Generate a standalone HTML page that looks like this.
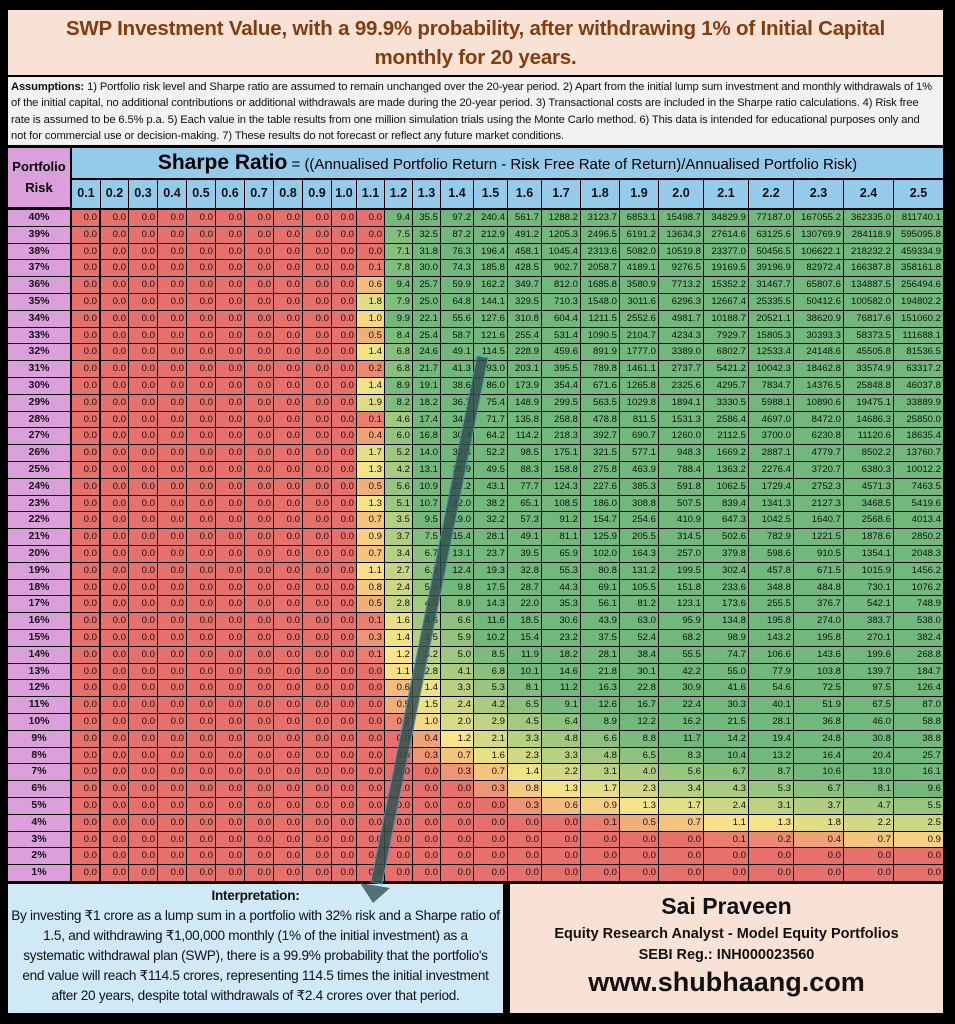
<!DOCTYPE html>
<html><head><meta charset="utf-8">
<style>
*{margin:0;padding:0;box-sizing:border-box}
body{width:955px;height:1024px;background:#000;position:relative;overflow:hidden;font-family:"Liberation Sans",sans-serif}
.a{position:absolute}
#title{left:8px;top:10px;width:935px;height:65px;background:#f8e1d5;color:#843c0c;font-weight:bold;font-size:20.5px;text-align:center;line-height:29px;padding-top:4px;letter-spacing:-0.2px}
#ass{left:8px;top:77px;width:935px;height:68px;background:#f2f2f2;font-size:11.2px;line-height:16.4px;padding:2px 3px;color:#111;letter-spacing:-0.12px;white-space:nowrap;overflow:hidden}
.c{position:absolute;font-size:9.6px;text-align:right;padding-right:2px;line-height:15.8px;color:#111}
.rl{position:absolute;background:#dba0db;font-size:10.5px;font-weight:bold;text-align:center;line-height:15.8px;color:#111}
.h{position:absolute;background:#94cbea;font-weight:bold;font-size:12.5px;text-align:center;line-height:26px;color:#111}
#left{left:8px;top:884px;width:495px;height:129px;background:#cfe9f7;text-align:center;font-size:13.6px;line-height:20px;padding:2px 0 0;color:#111;letter-spacing:-0.28px;white-space:nowrap;overflow:hidden}
#right{left:510px;top:884px;width:433px;height:129px;background:#f8e1d5;text-align:center;font-weight:bold;color:#111}
</style></head><body>
<div id="title" class="a">SWP Investment Value, with a 99.9% probability, after withdrawing 1% of Initial Capital<br>monthly for 20 years.</div>
<div id="ass" class="a"><b>Assumptions:</b> 1) Portfolio risk level and Sharpe ratio are assumed to remain unchanged over the 20-year period. 2) Apart from the initial lump sum investment and monthly withdrawals of 1%<br>of the initial capital, no additional contributions or additional withdrawals are made during the 20-year period. 3) Transactional costs are included in the Sharpe ratio calculations. 4) Risk free<br>rate is assumed to be 6.5% p.a. 5) Each value in the table results from one million simulation trials using the Monte Carlo method. 6) This data is intended for educational purposes only and<br>not for commercial use or decision-making. 7) These results do not forecast or reflect any future market conditions.</div>
<div class="a" style="left:8px;top:148px;width:62px;height:59px;background:#dba0db;font-weight:bold;font-size:13px;text-align:center;line-height:21px;padding-top:8px">Portfolio<br>Risk</div>
<div class="a" style="left:72px;top:148px;width:871px;height:30px;background:#94cbea;text-align:center;line-height:30px;font-size:15px"><b style="font-size:21px">Sharpe Ratio</b> = ((Annualised Portfolio Return - Risk Free Rate of Return)/Annualised Portfolio Risk)</div>
<div id="tbl"></div>
<div id="left" class="a"><b>Interpretation:</b><br>By investing ₹1 crore as a lump sum in a portfolio with 32% risk and a Sharpe ratio of<br>1.5, and withdrawing ₹1,00,000 monthly (1% of the initial investment) as a<br>systematic withdrawal plan (SWP), there is a 99.9% probability that the portfolio's<br>end value will reach ₹114.5 crores, representing 114.5 times the initial investment<br>after 20 years, despite total withdrawals of ₹2.4 crores over that period.</div>
<div id="right" class="a"><div style="font-size:23px;margin-top:9px">Sai Praveen</div><div style="font-size:14.5px;margin-top:6px">Equity Research Analyst - Model Equity Portfolios</div><div style="font-size:14.5px;margin-top:5px">SEBI Reg.: INH000023560</div><div style="font-size:27px;margin-top:4px">www.shubhaang.com</div></div>
<svg class="a" style="left:0;top:0" width="955" height="1024">
<polygon points="477,356 488,358 382,884 371,882" fill="#34504c" fill-opacity="0.85" stroke="#4a90c0" stroke-width="1"/>
<polygon points="360,883 390,888 373,903" fill="#4a6a6c" fill-opacity="0.95"/>
</svg>
<script>
var edges=[71,100,128,157,186,215,244,273,302,331,356,384,412,440,473,507,541,580,619,658,703,748,793,843,893,943];
var names=["0.1","0.2","0.3","0.4","0.5","0.6","0.7","0.8","0.9","1.0","1.1","1.2","1.3","1.4","1.5","1.6","1.7","1.8","1.9","2.0","2.1","2.2","2.3","2.4","2.5"];
function z(n){var a=[];for(var i=0;i<n;i++)a.push(0);return a}
var D={};
D["1.1"]=[0,0,0,0.1,0.6,1.8,1.0,0.5,1.4,0.2,1.4,1.9,0.1,0.4,1.7,1.3,0.5,1.3,0.7,0.9,0.7,1.1,0.8,0.5,0.1,0.3,0.1].concat(z(13));
D["1.2"]=[9.4,7.5,7.1,7.8,9.4,7.9,9.9,8.4,6.8,6.8,8.9,8.2,4.6,6.0,5.2,4.2,5.6,5.1,3.5,3.7,3.4,2.7,2.4,2.8,1.6,1.4,1.2,1.1,0.6,0.5,0.2].concat(z(9));
D["1.3"]=[35.5,32.5,31.8,30.0,25.7,25.0,22.1,25.4,24.6,21.7,19.1,18.2,17.4,16.8,14.0,13.1,10.9,10.7,9.5,7.5,6.7,6.3,5.6,4.5,4.6,3.5,3.2,2.8,1.4,1.5,1.0,0.4,0.3].concat(z(7));
D["1.4"]=[97.2,87.2,76.3,74.3,59.9,64.8,55.6,58.7,49.1,41.3,38.6,36.7,34.3,30.4,30.3,26.9,23.2,22.0,19.0,15.4,13.1,12.4,9.8,8.9,6.6,5.9,5.0,4.1,3.3,2.4,2.0,1.2,0.7,0.3].concat(z(6));
D["1.5"]=[240.4,212.9,196.4,185.8,162.2,144.1,127.6,121.6,114.5,93.0,86.0,75.4,71.7,64.2,52.2,49.5,43.1,38.2,32.2,28.1,23.7,19.3,17.5,14.3,11.6,10.2,8.5,6.8,5.3,4.2,2.9,2.1,1.6,0.7,0.3].concat(z(5));
D["1.6"]=[561.7,491.2,458.1,428.5,349.7,329.5,310.8,255.4,228.9,203.1,173.9,148.9,135.8,114.2,98.5,88.3,77.7,65.1,57.3,49.1,39.5,32.8,28.7,22.0,18.5,15.4,11.9,10.1,8.1,6.5,4.5,3.3,2.3,1.4,0.8,0.3].concat(z(4));
D["1.7"]=[1288.2,1205.3,1045.4,902.7,812.0,710.3,604.4,531.4,459.6,395.5,354.4,299.5,258.8,218.3,175.1,158.8,124.3,108.5,91.2,81.1,65.9,55.3,44.3,35.3,30.6,23.2,18.2,14.6,11.2,9.1,6.4,4.8,3.3,2.2,1.3,0.6].concat(z(4));
D["1.8"]=[3123.7,2496.5,2313.6,2058.7,1685.8,1548.0,1211.5,1090.5,891.9,789.8,671.6,563.5,478.8,392.7,321.5,275.8,227.6,186.0,154.7,125.9,102.0,80.8,69.1,56.1,43.9,37.5,28.1,21.8,16.3,12.6,8.9,6.6,4.8,3.1,1.7,0.9,0.1].concat(z(3));
D["1.9"]=[6853.1,6191.2,5082.0,4189.1,3580.9,3011.6,2552.6,2104.7,1777.0,1461.1,1265.8,1029.8,811.5,690.7,577.1,463.9,385.3,308.8,254.6,205.5,164.3,131.2,105.5,81.2,63.0,52.4,38.4,30.1,22.8,16.7,12.2,8.8,6.5,4.0,2.3,1.3,0.5].concat(z(3));
D["2.0"]=[15498.7,13634.3,10519.8,9276.5,7713.2,6296.3,4981.7,4234.3,3389.0,2737.7,2325.6,1894.1,1531.3,1260.0,948.3,788.4,591.8,507.5,410.9,314.5,257.0,199.5,151.8,123.1,95.9,68.2,55.5,42.2,30.9,22.4,16.2,11.7,8.3,5.6,3.4,1.7,0.7].concat(z(3));
D["2.1"]=[34829.9,27614.6,23377.0,19169.5,15352.2,12667.4,10188.7,7929.7,6802.7,5421.2,4295.7,3330.5,2586.4,2112.5,1669.2,1363.2,1062.5,839.4,647.3,502.6,379.8,302.4,233.6,173.6,134.8,98.9,74.7,55.0,41.6,30.3,21.5,14.2,10.4,6.7,4.3,2.4,1.1,0.1].concat(z(2));
D["2.2"]=[77187.0,63125.6,50456.5,39196.9,31467.7,25335.5,20521.1,15805.3,12533.4,10042.3,7834.7,5988.1,4697.0,3700.0,2887.1,2276.4,1729.4,1341.3,1042.5,782.9,598.6,457.8,348.8,255.5,195.8,143.2,106.6,77.9,54.6,40.1,28.1,19.4,13.2,8.7,5.3,3.1,1.3,0.2].concat(z(2));
D["2.3"]=[167055.2,130769.9,106622.1,82972.4,65807.6,50412.6,38620.9,30393.3,24148.6,18462.8,14376.5,10890.6,8472.0,6230.8,4779.7,3720.7,2752.3,2127.3,1640.7,1221.5,910.5,671.5,484.8,376.7,274.0,195.8,143.6,103.8,72.5,51.9,36.8,24.8,16.4,10.6,6.7,3.7,1.8,0.4].concat(z(2));
D["2.4"]=[362335.0,284118.9,218232.2,166387.8,134887.5,100582.0,76817.6,58373.5,45505.8,33574.9,25848.8,19475.1,14686.3,11120.6,8502.2,6380.3,4571.3,3468.5,2568.6,1878.6,1354.1,1015.9,730.1,542.1,383.7,270.1,199.6,139.7,97.5,67.5,46.0,30.8,20.4,13.0,8.1,4.7,2.2,0.7].concat(z(2));
D["2.5"]=[811740.1,595095.8,459334.9,358161.8,256494.6,194802.2,151060.2,111688.1,81536.5,63317.2,46037.8,33889.9,25850.0,18635.4,13760.7,10012.2,7463.5,5419.6,4013.4,2850.2,2048.3,1456.2,1076.2,748.9,538.0,382.4,268.8,184.7,126.4,87.0,58.8,38.8,25.7,16.1,9.6,5.5,2.5,0.9].concat(z(2));
var R=[232,112,107],O=[243,188,122],Y=[250,230,135],G=[112,185,122];
function mix(a,b,t){return "rgb("+a.map(function(x,i){return Math.round(x+(b[i]-x)*t)}).join(",")+")"}
function col(v){
 if(v<=0.6)return mix(R,O,v/0.6);
 if(v<=1.2)return mix(O,Y,(v-0.6)/0.6);
 if(v>=10)return mix(G,G,0);
 return mix(Y,G,Math.log(v/1.2)/Math.log(10/1.2));
}
var h="";
for(var j=0;j<25;j++){
 var L=edges[j]+1,W=edges[j+1]-edges[j]-1;
 h+='<div class="h" style="left:'+L+'px;top:180px;width:'+W+'px;height:28px">'+names[j]+'</div>';
}
for(var r=0;r<40;r++){
 var T=Math.round(210+r*16.8),H=Math.round(210+(r+1)*16.8)-T-1;
 h+='<div class="rl" style="left:8px;top:'+T+'px;width:62px;height:'+H+'px">'+(40-r)+'%</div>';
 for(var j=0;j<25;j++){
  var v=D[names[j]]?D[names[j]][r]:0;
  var L=edges[j]+1,W=edges[j+1]-edges[j]-1;
  if(j==0){L=72;W=edges[1]-72-1;}
  h+='<div class="c" style="left:'+L+'px;top:'+T+'px;width:'+W+'px;height:'+H+'px;background:'+col(v)+'">'+v.toFixed(1)+'</div>';
 }
}
document.getElementById("tbl").innerHTML=h;
</script>
</body></html>
